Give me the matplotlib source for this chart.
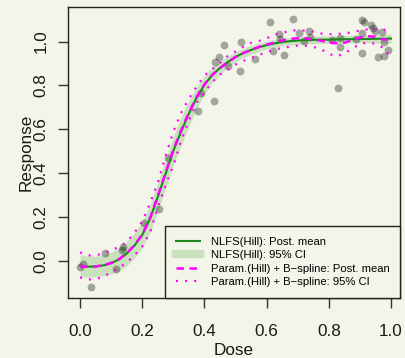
import matplotlib
matplotlib.use("Agg")
import matplotlib.pyplot as plt
from matplotlib.lines import Line2D
import numpy as np

plt.rcParams['font.family'] = ['Liberation Sans', 'DejaVu Sans']

# ---- observed data (Dose, Response) ----
dose = [0.000, 0.009, 0.035, 0.081, 0.116, 0.134, 0.139, 0.207, 0.255, 0.284,
        0.378, 0.390, 0.432, 0.434, 0.447, 0.463, 0.475, 0.513, 0.519, 0.561,
        0.612, 0.620, 0.639, 0.642, 0.657, 0.685, 0.705, 0.721, 0.737, 0.739,
        0.810, 0.831, 0.835, 0.836, 0.888, 0.906, 0.914, 0.907, 0.907, 0.937,
        0.943, 0.949, 0.958, 0.972, 0.979, 0.977, 0.990]
response = [-0.027, -0.017, -0.122, 0.034, -0.039, 0.049, 0.064, 0.174, 0.237, 0.470,
            0.685, 0.767, 0.731, 0.906, 0.932, 0.986, 0.891, 0.867, 0.996, 0.919,
            1.088, 0.957, 1.035, 1.012, 0.940, 1.105, 1.041, 1.005, 1.049, 1.020,
            1.006, 0.787, 1.016, 0.974, 1.011, 1.099, 1.091, 1.041, 0.950, 1.075,
            1.062, 1.050, 0.928, 1.044, 0.997, 0.934, 0.963]

# ---- fitted curves, read on a 0.025 dose grid ----
grid = [0.000, 0.025, 0.050, 0.075, 0.100, 0.125, 0.150, 0.175, 0.200, 0.225,
        0.250, 0.275, 0.300, 0.325, 0.350, 0.375, 0.400, 0.425, 0.450, 0.475,
        0.500, 0.525, 0.550, 0.575, 0.600, 0.625, 0.650, 0.675, 0.700, 0.725,
        0.750, 0.775, 0.800, 0.825, 0.850, 0.875, 0.900, 0.925, 0.950, 0.975, 1.000]

nlfs_mean = [-0.023, -0.027, -0.026, -0.021, -0.011, 0.006, 0.033, 0.070, 0.118, 0.192,
             0.292, 0.397, 0.503, 0.590, 0.672, 0.745, 0.803, 0.848, 0.880, 0.907,
             0.930, 0.948, 0.962, 0.974, 0.984, 0.992, 0.998, 1.002, 1.005, 1.007,
             1.008, 1.009, 1.009, 1.010, 1.011, 1.011, 1.012, 1.012, 1.013, 1.013, 1.014]
nlfs_lo = [-0.073, -0.075, -0.073, -0.069, -0.061, -0.047, -0.023, 0.012, 0.058, 0.129,
           0.227, 0.331, 0.437, 0.526, 0.614, 0.695, 0.761, 0.813, 0.850, 0.881,
           0.907, 0.927, 0.942, 0.955, 0.966, 0.974, 0.981, 0.985, 0.988, 0.990,
           0.991, 0.992, 0.992, 0.993, 0.994, 0.994, 0.995, 0.995, 0.995, 0.994, 0.993]
nlfs_hi = [0.027, 0.021, 0.021, 0.027, 0.039, 0.059, 0.089, 0.128, 0.178, 0.255,
           0.357, 0.463, 0.569, 0.654, 0.730, 0.795, 0.845, 0.883, 0.910, 0.933,
           0.953, 0.969, 0.982, 0.993, 1.002, 1.010, 1.015, 1.019, 1.022, 1.024,
           1.025, 1.026, 1.026, 1.027, 1.028, 1.028, 1.029, 1.029, 1.031, 1.032, 1.035]

param_mean = [-0.025, -0.028, -0.026, -0.020, -0.010, 0.007, 0.034, 0.072, 0.120, 0.195,
              0.296, 0.402, 0.508, 0.596, 0.676, 0.748, 0.805, 0.848, 0.879, 0.906,
              0.930, 0.948, 0.962, 0.976, 0.986, 0.996, 1.005, 1.012, 1.016, 1.015,
              1.010, 1.004, 0.997, 0.992, 0.995, 1.007, 1.018, 1.025, 1.022, 1.010, 1.008]
param_lo = [-0.076, -0.086, -0.084, -0.072, -0.053, -0.032, -0.008, 0.025, 0.066, 0.128,
            0.245, 0.345, 0.435, 0.548, 0.640, 0.722, 0.770, 0.815, 0.850, 0.872,
            0.895, 0.912, 0.925, 0.939, 0.952, 0.963, 0.972, 0.977, 0.982, 0.981,
            0.976, 0.965, 0.945, 0.932, 0.947, 0.967, 0.990, 0.995, 0.991, 0.972, 0.929]
param_hi = [0.038, 0.024, 0.025, 0.033, 0.047, 0.064, 0.085, 0.128, 0.180, 0.262,
            0.356, 0.478, 0.590, 0.675, 0.740, 0.795, 0.845, 0.875, 0.903, 0.935,
            0.955, 0.977, 0.995, 1.003, 1.015, 1.032, 1.040, 1.049, 1.053, 1.050,
            1.045, 1.037, 1.034, 1.035, 1.037, 1.043, 1.051, 1.056, 1.056, 1.050, 1.072]

xticks = [0.0, 0.2, 0.4, 0.6, 0.8, 1.0]
yticks = [0.0, 0.2, 0.4, 0.6, 0.8, 1.0]

bg = '#f2f5e8'
green = '#1c861c'
band = '#c9e2bd'
magenta = '#ff00ff'

fig = plt.figure(figsize=(4.05, 3.58), dpi=100, facecolor=bg)
ax = fig.add_axes([68/405, 60/358, 332/405, 291/358], facecolor=bg)

ax.fill_between(grid, nlfs_lo, nlfs_hi, color=band, lw=0, zorder=1)
ax.scatter(dose, response, s=32, color='black', alpha=0.32, lw=0, zorder=2)
ax.plot(grid, nlfs_mean, color=green, lw=1.5, zorder=3)
ax.plot(grid, param_mean, color=magenta, lw=1.8, dashes=(3.0, 2.2), zorder=4)
ax.plot(grid, param_lo, color=magenta, lw=1.6, linestyle=(0, (0.9, 3.2)), zorder=4)
ax.plot(grid, param_hi, color=magenta, lw=1.6, linestyle=(0, (0.9, 3.2)), zorder=4)

ax.set_xlim(-0.039, 1.029)
ax.set_ylim(-0.170, 1.158)
ax.set_xticks(xticks)
ax.set_yticks(yticks)
ax.set_xticklabels([f"{v:.1f}" for v in xticks])
ax.set_yticklabels([f"{v:.1f}" for v in yticks])

for s in ax.spines.values():
    s.set_color('#222222')
    s.set_linewidth(1.0)

ax.tick_params(axis='both', direction='out', length=7, width=1.0, color='#333333',
               labelsize=12.3, labelcolor='#1a1a1a')
ax.tick_params(axis='x', pad=11.5)
ax.tick_params(axis='y', pad=7)
for lab in ax.get_yticklabels():
    lab.set_rotation(90)
    lab.set_rotation_mode('default')
    lab.set_ha('right')
    lab.set_va('center')

ax.set_xlabel('Dose', fontsize=12.3, color='#1a1a1a')
ax.xaxis.set_label_coords(0.5, -0.156)
ax.xaxis.label.set_va('top')
ax.set_ylabel('Response', fontsize=12.3, color='#1a1a1a')
ax.yaxis.set_label_coords(-0.103, 0.5)

handles = [
    Line2D([], [], color=green, lw=1.5),
    Line2D([], [], color=band, lw=6),
    Line2D([], [], color=magenta, lw=1.8, dashes=(3.0, 2.2)),
    Line2D([], [], color=magenta, lw=1.6, linestyle=(0, (0.9, 3.2))),
]
labels = ['NLFS(Hill): Post. mean', 'NLFS(Hill): 95% CI',
          'Param.(Hill) + B\u2212spline: Post. mean', 'Param.(Hill) + B\u2212spline: 95% CI']
leg = ax.legend(handles, labels, loc='lower right', borderaxespad=0, fontsize=8.1,
                frameon=True, fancybox=False, framealpha=1, facecolor=bg,
                edgecolor='#222222', handlelength=2.2, handletextpad=0.9,
                labelspacing=0.32, borderpad=0.95)
leg.get_frame().set_linewidth(1.0)
leg.set_zorder(5)

fig.savefig('out.png', dpi=100, facecolor=bg)
